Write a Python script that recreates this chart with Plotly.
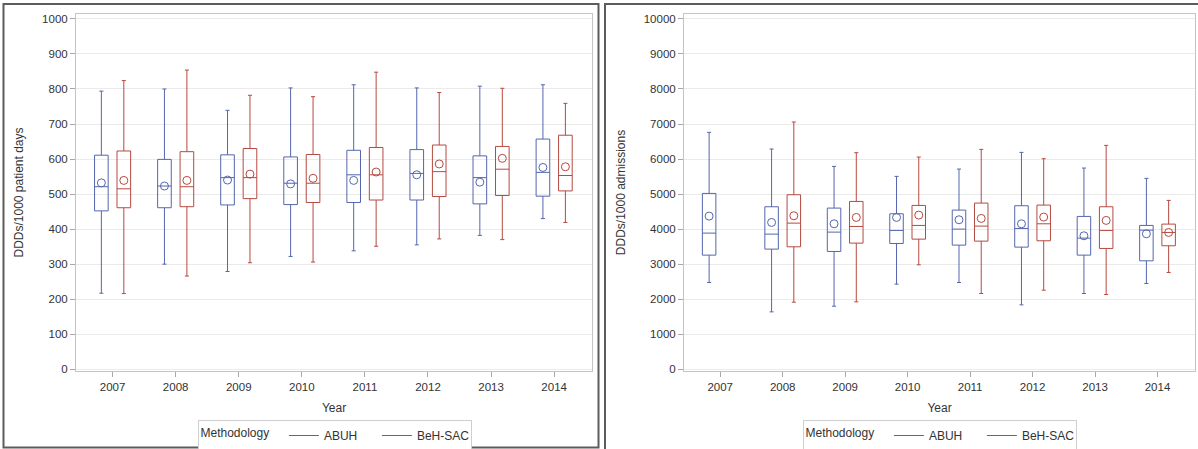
import plotly.graph_objects as go

# ---- data -------------------------------------------------------------
years = [2007, 2008, 2009, 2010, 2011, 2012, 2013, 2014]
methods = ["ABUH", "BeH-SAC"]

# DDDs/1000 patient days
abuh_pd_low = [217, 300, 279, 322, 338, 355, 382, 430]
abuh_pd_q1 = [452, 461, 469, 470, 476, 483, 472, 494]
abuh_pd_med = [521, 523, 547, 531, 555, 559, 547, 562]
abuh_pd_q3 = [611, 599, 612, 606, 625, 627, 609, 657]
abuh_pd_high = [794, 800, 739, 803, 812, 803, 808, 812]
abuh_pd_mean = [532, 523, 540, 529, 539, 555, 534, 576]

beh_pd_low = [216, 266, 304, 306, 351, 372, 370, 419]
beh_pd_q1 = [461, 464, 487, 476, 483, 493, 496, 509]
beh_pd_med = [515, 521, 547, 531, 555, 564, 571, 553]
beh_pd_q3 = [623, 621, 630, 613, 633, 640, 636, 668]
beh_pd_high = [824, 854, 782, 778, 848, 790, 802, 759]
beh_pd_mean = [539, 539, 557, 545, 563, 586, 602, 578]

# DDDs/1000 admissions (no BeH-SAC figure for 2007)
abuh_ad_low = [2476, 1638, 1800, 2429, 2476, 1838, 2162, 2448]
abuh_ad_q1 = [3257, 3429, 3362, 3590, 3543, 3486, 3257, 3095]
abuh_ad_med = [3886, 3857, 3914, 3962, 4000, 4019, 3743, 3971]
abuh_ad_q3 = [5019, 4638, 4600, 4438, 4543, 4667, 4362, 4105]
abuh_ad_high = [6762, 6286, 5790, 5505, 5714, 6190, 5743, 5448]
abuh_ad_mean = [4371, 4190, 4152, 4333, 4267, 4152, 3810, 3867]

beh_ad_low = [None, 1914, 1924, 2981, 2162, 2257, 2133, 2762]
beh_ad_q1 = [None, 3495, 3600, 3714, 3657, 3667, 3448, 3524]
beh_ad_med = [None, 4171, 4076, 4105, 4086, 4152, 3962, 3905]
beh_ad_q3 = [None, 4981, 4790, 4676, 4743, 4686, 4638, 4143]
beh_ad_high = [None, 7057, 6181, 6057, 6276, 6010, 6390, 4819]
beh_ad_mean = [None, 4381, 4333, 4400, 4305, 4343, 4248, 3905]

# ---- style ------------------------------------------------------------
COLORS = {"ABUH": "#5566ad", "BeH-SAC": "#b54a40"}
OFFSETS = {"ABUH": -0.178, "BeH-SAC": 0.178}
BOX_W = 0.216
W, H = 1198, 449
FONT = "Liberation Sans, Arial, sans-serif"
TXT = "#333333"


def px_x(p):
    return p / W


def px_y(p):
    return 1 - p / H


fig = go.Figure()


def add_group(name, low, q1, med, q3, high, mean, xa, ya):
    keep = [i for i, v in enumerate(med) if v is not None]
    xs = [years[i] + OFFSETS[name] for i in keep]
    pick = lambda arr: [arr[i] for i in keep]
    fig.add_trace(go.Box(
        x=xs, q1=pick(q1), median=pick(med), q3=pick(q3),
        lowerfence=pick(low), upperfence=pick(high),
        width=BOX_W, whiskerwidth=0.3, boxpoints=False,
        line=dict(color=COLORS[name], width=1),
        fillcolor="rgba(0,0,0,0)", showlegend=False, name=name,
        xaxis=xa, yaxis=ya,
    ))
    fig.add_trace(go.Scatter(
        x=xs, y=pick(mean), mode="markers",
        marker=dict(symbol="circle-open", size=8, color=COLORS[name],
                    line=dict(width=1, color=COLORS[name])),
        showlegend=False, name=name, xaxis=xa, yaxis=ya,
    ))


add_group("ABUH", abuh_pd_low, abuh_pd_q1, abuh_pd_med, abuh_pd_q3,
          abuh_pd_high, abuh_pd_mean, "x", "y")
add_group("BeH-SAC", beh_pd_low, beh_pd_q1, beh_pd_med, beh_pd_q3,
          beh_pd_high, beh_pd_mean, "x", "y")
add_group("ABUH", abuh_ad_low, abuh_ad_q1, abuh_ad_med, abuh_ad_q3,
          abuh_ad_high, abuh_ad_mean, "x2", "y2")
add_group("BeH-SAC", beh_ad_low, beh_ad_q1, beh_ad_med, beh_ad_q3,
          beh_ad_high, beh_ad_mean, "x2", "y2")

# legend entries drawn as line segments, one legend per panel
for leg, xa, ya in (("legend", "x", "y"), ("legend2", "x2", "y2")):
    for m in methods:
        fig.add_trace(go.Scatter(
            x=[None], y=[None], mode="lines", name=m,
            line=dict(color=COLORS[m], width=1),
            legend=leg, xaxis=xa, yaxis=ya, showlegend=True,
        ))

x_common = dict(
    range=[2006.42, 2014.6], tickmode="array", tickvals=years,
    ticktext=[str(y) for y in years], showgrid=False, zeroline=False,
    showline=True, mirror=True, linecolor="#c4c4c4", linewidth=1,
    ticks="outside", ticklen=5, tickcolor="#a8a8a8", automargin=False,
    tickfont=dict(family=FONT, size=11.5, color=TXT),
    title=dict(text="Year", font=dict(family=FONT, size=12, color=TXT),
               standoff=11),
)
y_common = dict(
    showgrid=True, gridcolor="#ebebeb", gridwidth=1, zeroline=False,
    showline=True, mirror=True, linecolor="#c4c4c4", linewidth=1,
    ticks="outside", ticklen=5, tickcolor="#a8a8a8", tickformat="d",
    automargin=False,
    tickfont=dict(family=FONT, size=11.5, color=TXT),
    domain=[px_y(371), px_y(14)],
)

legend_common = dict(
    orientation="h", xanchor="center", yanchor="top", y=px_y(420),
    bordercolor="#cfcfcf", borderwidth=1, bgcolor="white",
    font=dict(family=FONT, size=12, color=TXT),
    title=dict(text="Methodology  ", side="left",
               font=dict(family=FONT, size=12, color=TXT)),
    itemwidth=30, tracegroupgap=0, entrywidth=48,
)

fig.update_layout(
    width=W, height=H,
    margin=dict(l=0, r=0, t=0, b=0, autoexpand=False),
    paper_bgcolor="white", plot_bgcolor="white",
    font=dict(family=FONT, color=TXT),
    xaxis=dict(domain=[px_x(76), px_x(592)], anchor="y", **x_common),
    xaxis2=dict(domain=[px_x(684), px_x(1195)], anchor="y2", **x_common),
    yaxis=dict(anchor="x", range=[-5, 1014], tickvals=list(range(0, 1001, 100)),
               title=dict(text="DDDs/1000 patient days",
                          font=dict(family=FONT, size=12, color=TXT),
                          standoff=15),
               **y_common),
    yaxis2=dict(anchor="x2", range=[-50, 10140],
                tickvals=list(range(0, 10001, 1000)),
                title=dict(text="DDDs/1000 admissions",
                           font=dict(family=FONT, size=12, color=TXT),
                           standoff=15),
                **y_common),
    legend=dict(x=px_x(334.5), **legend_common),
    legend2=dict(x=px_x(939.5), **legend_common),
    showlegend=True,
    shapes=[
        dict(type="rect", xref="paper", yref="paper",
             x0=px_x(3.5), x1=px_x(598.5), y0=px_y(447.5), y1=px_y(4),
             line=dict(color="#5c5c5c", width=2), layer="above"),
        dict(type="rect", xref="paper", yref="paper",
             x0=px_x(605), x1=1.05, y0=-0.05, y1=px_y(4),
             line=dict(color="#5c5c5c", width=2), layer="above"),
    ],
)

fig.write_html("out.html")
